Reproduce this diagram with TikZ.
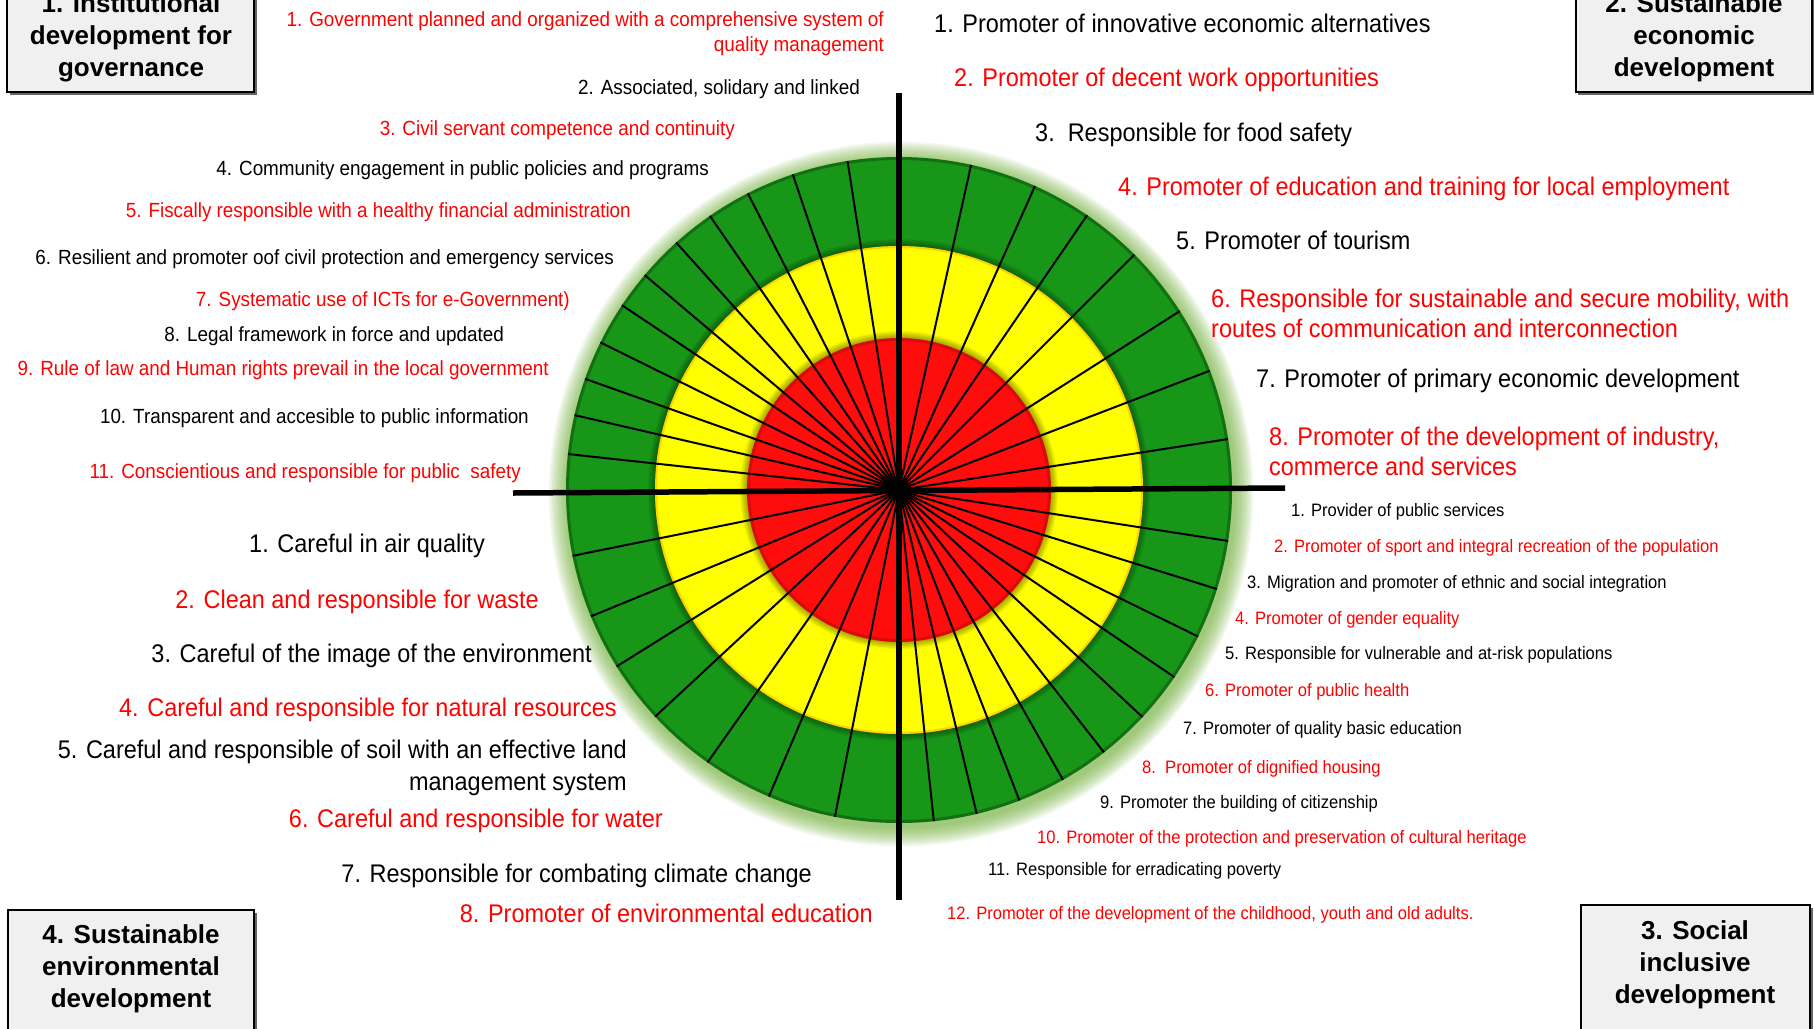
\documentclass[tikz,border=0pt]{standalone}
\usepackage{fontspec}
\setmainfont{Liberation Sans}[FakeStretch=0.92]
\newfontfamily\boxfont{Liberation Sans}
\usetikzlibrary{calc,shadows}
\definecolor{rgreen}{RGB}{24,150,24}
\definecolor{ryellow}{RGB}{255,255,0}
\definecolor{rred}{RGB}{255,12,12}
\definecolor{tred}{RGB}{255,0,0}
\definecolor{glowc}{RGB}{110,175,50}
\definecolor{boxgray}{RGB}{240,240,240}
\begin{document}
\begin{tikzpicture}[x=1pt,y=-1pt,
  itI/.style={inner sep=0pt,font=\fontsize{20.5}{25}\selectfont,yshift=1.5pt},
  itE/.style={inner sep=0pt,font=\fontsize{25.5}{29.5}\selectfont},
  itS/.style={inner sep=0pt,font=\fontsize{18}{22}\selectfont,yshift=3pt},
  lft/.style={anchor=mid east,yshift=-6.5pt},
  rgt/.style={anchor=mid west,yshift=-6.5pt},
  tr/.style={text=tred},
  catbox/.style={draw=black,line width=2pt,fill=boxgray,inner sep=0pt,
    drop shadow={shadow xshift=2.5pt,shadow yshift=-2.5pt,opacity=0.6,fill=black}},
  boxtxt/.style={align=center,inner sep=0pt,font=\boxfont\bfseries\fontsize{26}{32}\selectfont},
  spoke/.style={line width=2pt,black},
  axis/.style={line width=5.5pt,black}]
\useasboundingbox (0,0) rectangle (1814,1028);
\clip (0,0) rectangle (1814,1028);
\fill[white] (0,0) rectangle (1814,1028);

% ---------- target ----------
\coordinate (c) at (899,490);
\coordinate (cg) at (901,494);
\foreach \k in {1,...,12}{\fill[glowc,opacity=0.08] (cg) circle[radius={333pt+\k*1.6pt}];}
\fill[rgreen] (c) circle[radius=333pt];
\draw[black,opacity=0.25,line width=3pt] (c) circle[radius=331.5pt];
\foreach \k in {1,...,7}{\fill[black,opacity=0.05] (c) circle[radius={244pt+\k*1pt}];}
\fill[ryellow] (c) circle[radius=244pt];
\draw[orange,opacity=0.35,line width=2pt] (c) circle[radius=243pt];
\foreach \k in {1,...,7}{\fill[black,opacity=0.05] (c) circle[radius={152pt+\k*1pt}];}
\fill[rred] (c) circle[radius=152pt];
\draw[black,opacity=0.15,line width=3pt] (c) circle[radius=150.5pt];

\foreach \a in {98.9,108.6,117,124.6,132,139.8,146.3,153.7,160.5,167,173.8,
                77.5,65.9,55.6,45,32.5,21,8.8,
                -8.8,-17.3,-26.1,-34.2,-43,-52,-60.5,-68.8,-76.5,-84,
                191.4,202.3,212,222.9,234.9,247,258.9}
  {\draw[spoke] (c) -- ($(c)+(\a:333pt)$);}
\fill[black] (c) circle[radius=7pt];

\coordinate (vtop) at (899,93);
\coordinate (vbot) at (899,900);
\coordinate (hl) at (513,493);
\coordinate (hr) at (1285,488);
\draw[axis] (vtop) -- (vbot);
\draw[axis] (hl) -- (hr);

% ---------- category boxes ----------
\node[catbox,minimum width=247pt,minimum height=132pt] (b1) at (130.5,26) {};
\node[boxtxt] (b1t) at (131,37.5) {1. Institutional\\development for\\governance};
\node[catbox,minimum width=236pt,minimum height=132pt] (b2) at (1693.5,26) {};
\node[boxtxt] (b2t) at (1694,38) {2. Sustainable\\economic\\development};
\node[catbox,minimum width=229pt,minimum height=150pt] (b3) at (1695.5,980) {};
\node[boxtxt] (b3t) at (1695,965) {3. Social\\inclusive\\development};
\node[catbox,minimum width=246pt,minimum height=150pt] (b4) at (131,985) {};
\node[boxtxt] (b4t) at (131,969) {4. Sustainable\\environmental\\development};

% ---------- 1. institutional ----------
\node[itI,tr,anchor=east,align=right] (i1) at (884,35.5) {1. Government planned and organized with a comprehensive system of\\quality management};
\node[itI,lft] (i2) at (860,87) {2. Associated, solidary and linked};
\node[itI,lft,tr] (i3) at (735,128) {3. Civil servant competence and continuity};
\node[itI,lft] (i4) at (709,168) {4. Community engagement in public policies and programs};
\node[itI,lft,tr] (i5) at (631,210) {5. Fiscally responsible with a healthy financial administration};
\node[itI,lft] (i6) at (614,257) {6. Resilient and promoter oof civil protection and emergency services};
\node[itI,lft,tr] (i7) at (570,299) {7. Systematic use of ICTs for e-Government)};
\node[itI,lft] (i8) at (504,334) {8. Legal framework in force and updated};
\node[itI,lft,tr] (i9) at (549,368) {9. Rule of law and Human rights prevail in the local government};
\node[itI,lft] (i10) at (529,416) {10. Transparent and accesible to public information};
\node[itI,lft,tr] (i11) at (521,471) {11. Conscientious and responsible for public\ \ safety};

% ---------- 2. economic ----------
\node[itE,rgt] (e1) at (934,23) {1. Promoter of innovative economic alternatives};
\node[itE,rgt,tr] (e2) at (954,77) {2. Promoter of decent work opportunities};
\node[itE,rgt] (e3) at (1035,132) {3.\ \ Responsible for food safety};
\node[itE,rgt,tr] (e4) at (1118,186) {4. Promoter of education and training for local employment};
\node[itE,rgt] (e5) at (1176,240) {5. Promoter of tourism};
\node[itE,tr,anchor=west,align=left] (e6) at (1211,313.5) {6. Responsible for sustainable and secure mobility, with\\routes of communication and interconnection};
\node[itE,rgt] (e7) at (1256,378) {7. Promoter of primary economic development};
\node[itE,tr,anchor=west,align=left] (e8) at (1269,451.5) {8. Promoter of the development of industry,\\commerce and services};

% ---------- 3. social ----------
\node[itS,rgt] (s1) at (1291,510) {1. Provider of public services};
\node[itS,rgt,tr] (s2) at (1274,546) {2. Promoter of sport and integral recreation of the population};
\node[itS,rgt] (s3) at (1247,582) {3. Migration and promoter of ethnic and social integration};
\node[itS,rgt,tr] (s4) at (1235,618) {4. Promoter of gender equality};
\node[itS,rgt] (s5) at (1225,653) {5. Responsible for vulnerable and at-risk populations};
\node[itS,rgt,tr] (s6) at (1205,690) {6. Promoter of public health};
\node[itS,rgt] (s7) at (1183,728) {7. Promoter of quality basic education};
\node[itS,rgt,tr] (s8) at (1142,767) {8.\ \ Promoter of dignified housing};
\node[itS,rgt] (s9) at (1100,802) {9. Promoter the building of citizenship};
\node[itS,rgt,tr] (s10) at (1037,837) {10. Promoter of the protection and preservation of cultural heritage};
\node[itS,rgt] (s11) at (988,869) {11. Responsible for erradicating poverty};
\node[itS,rgt,tr] (s12) at (947,913) {12. Promoter of the development of the childhood, youth and old adults.};

% ---------- 4. environmental ----------
\node[itE,lft] (v1) at (485,543) {1. Careful in air quality};
\node[itE,lft,tr] (v2) at (539,599) {2. Clean and responsible for waste};
\node[itE,lft] (v3) at (592,653) {3. Careful of the image of the environment};
\node[itE,lft,tr] (v4) at (617,707) {4. Careful and responsible for natural resources};
\node[itE,anchor=east,align=right,font=\fontsize{25.5}{32}\selectfont] (v5) at (627,768) {5. Careful and responsible of soil with an effective land\\management system};
\node[itE,lft,tr] (v6) at (663,818) {6. Careful and responsible for water};
\node[itE,lft] (v7) at (812,873) {7. Responsible for combating climate change};
\node[itE,lft,tr] (v8) at (873,913) {8. Promoter of environmental education};
\end{tikzpicture}
\end{document}
